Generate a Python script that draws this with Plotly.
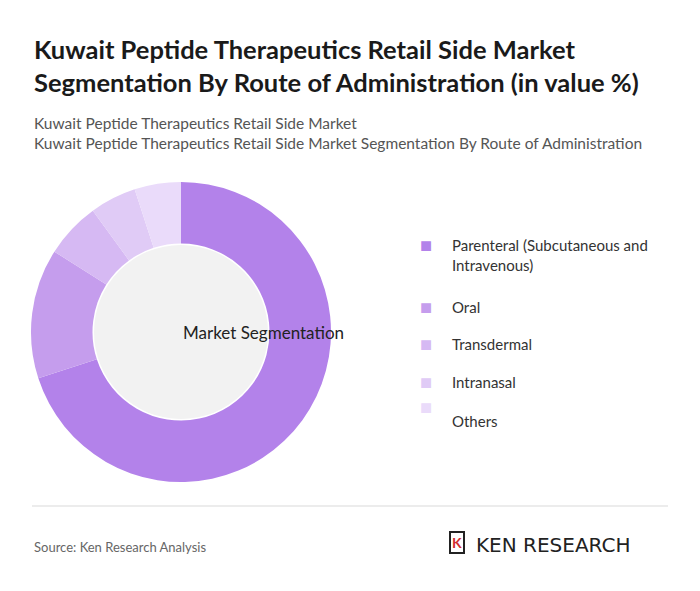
import plotly.graph_objects as go

# data
segments = ["Parenteral (Subcutaneous and<br>Intravenous)", "Oral", "Transdermal", "Intranasal", "Others"]
shares = [70, 14, 6, 5, 5]
colors = ["#b382ea", "#c59ded", "#d6b9f3", "#e0cbf6", "#eadbfa"]

W, H = 700, 591
OFF = 8  # page body margin

def px_x(x):
    return (x - OFF) / W

def px_y(y):
    return 1 - (y - OFF) / H

fig = go.Figure(go.Pie(
    labels=segments,
    values=shares,
    hole=0.59,
    sort=False,
    direction="clockwise",
    rotation=0,
    marker=dict(colors=colors, line=dict(width=0)),
    textinfo="none",
    hoverinfo="label+percent",
    showlegend=False,
    domain=dict(x=[px_x(31), px_x(331)], y=[px_y(482), px_y(182)]),
))

# grey centre of the donut
fig.add_shape(type="circle", xref="paper", yref="paper", layer="below",
              x0=px_x(181 - 87), x1=px_x(181 + 87), y0=px_y(332 + 87), y1=px_y(332 - 87),
              fillcolor="#f2f2f2", line=dict(width=0))
# divider line
fig.add_shape(type="line", xref="paper", yref="paper",
              x0=px_x(32), x1=px_x(668), y0=px_y(506), y1=px_y(506),
              line=dict(color="#d9d9d9", width=1))

ann = [
    dict(text="<b>Kuwait Peptide Therapeutics Retail Side Market<br>Segmentation By Route of Administration (in value %)</b>",
         x=px_x(32), y=px_y(32), font=dict(size=25.5, color="#1a1a1a"), align="left"),
    dict(text="Kuwait Peptide Therapeutics Retail Side Market<br>Kuwait Peptide Therapeutics Retail Side Market Segmentation By Route of Administration",
         x=px_x(32), y=px_y(112), font=dict(size=15.5, color="#555555"), align="left"),
    dict(text="Source: Ken Research Analysis", x=px_x(32), y=px_y(537),
         font=dict(size=13, color="#666666")),
    dict(text="KEN RESEARCH", x=px_x(474), y=px_y(531),
         font=dict(size=20, color="#222222", family="DejaVu Sans")),
    dict(text="<b>K</b>", x=px_x(449), y=px_y(531), bordercolor="#222", borderwidth=2, borderpad=1,
         font=dict(size=14, color="#d32f2f")),
]
for a in ann:
    fig.add_annotation(xref="paper", yref="paper", xanchor="left", yanchor="top",
                       showarrow=False, **a)

fig.add_annotation(text="Market Segmentation", xref="paper", yref="paper",
                   x=px_x(181), y=px_y(332), showarrow=False,
                   font=dict(size=17, color="#222222"))

# legend built from the data arrays
legend_y = [244, 306, 343, 381, 420]
for lab, col, ly in zip(segments, colors, legend_y):
    fig.add_annotation(text="■", xref="paper", yref="paper", x=px_x(426), y=px_y(ly),
                       showarrow=False, font=dict(size=20, color=col))
    fig.add_annotation(text=lab, xref="paper", yref="paper", x=px_x(450), y=px_y(ly - 10),
                       xanchor="left", yanchor="top", align="left", showarrow=False,
                       font=dict(size=15, color="#333333"))

fig.update_layout(
    width=W, height=H,
    margin=dict(l=0, r=0, t=0, b=0),
    paper_bgcolor="white",
    font=dict(family="Lato"),
)

fig.write_html("out.html")
